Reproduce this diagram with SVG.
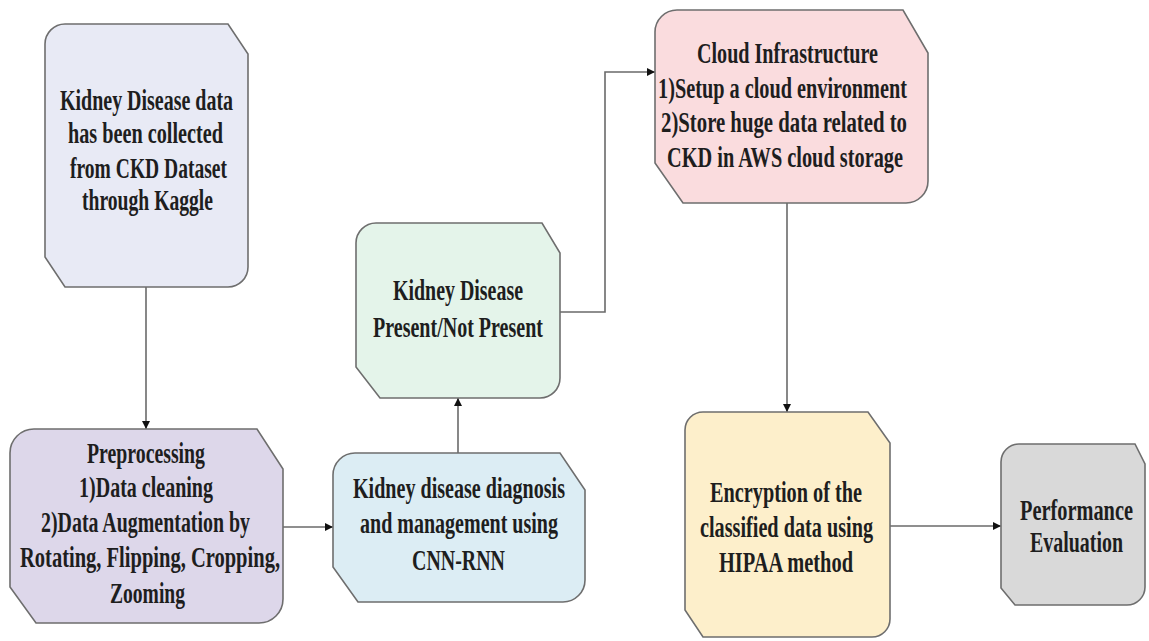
<svg xmlns="http://www.w3.org/2000/svg" width="1149" height="641" viewBox="0 0 1149 641">
<style>
.box{stroke:#6e6e6e;stroke-width:1.6}
.t{font-family:"Liberation Serif","Times New Roman",serif;font-weight:bold;font-size:29px;fill:#1e1e1e;text-anchor:middle}
.c{fill:none;stroke:#6a6a6a;stroke-width:1.6}
</style>
<defs>
<marker id="ah" viewBox="0 0 10 10" refX="10" refY="5" markerWidth="8" markerHeight="8" markerUnits="userSpaceOnUse" orient="auto">
<path d="M0,0 L10,5 L0,10 Z" fill="#111"/>
</marker>
</defs>
<rect width="1149" height="641" fill="#ffffff"/>
<g id="connectors">
<path class="c" d="M146,287 V429" marker-end="url(#ah)"/>
<path class="c" d="M283,527 H333" marker-end="url(#ah)"/>
<path class="c" d="M458,453 V398" marker-end="url(#ah)"/>
<path class="c" d="M560,312 H605 V72 H655" marker-end="url(#ah)"/>
<path class="c" d="M787,203 V412" marker-end="url(#ah)"/>
<path class="c" d="M890,526 H1001" marker-end="url(#ah)"/>
</g>
<g id="node-data">
<path class="box" fill="#E8EAF5" d="M65,24 H228 L248,54 V267 A20,20 0 0 1 228,287 H65 L45,257 V44 A20,20 0 0 1 65,24 Z"/>
<text class="t" transform="translate(146.5,110) scale(0.75,1)" x="0" y="0" textLength="230.7" lengthAdjust="spacingAndGlyphs">Kidney Disease data</text>
<text class="t" transform="translate(145.5,143) scale(0.75,1)" x="0" y="0" textLength="206.7" lengthAdjust="spacingAndGlyphs">has been collected</text>
<text class="t" transform="translate(148.5,178) scale(0.75,1)" x="0" y="0" textLength="209.3" lengthAdjust="spacingAndGlyphs">from CKD Dataset</text>
<text class="t" transform="translate(147.5,210) scale(0.75,1)" x="0" y="0" textLength="174.7" lengthAdjust="spacingAndGlyphs">through Kaggle</text>
</g>
<g id="node-preprocessing">
<path class="box" fill="#DDD7EA" d="M34,429 H257 L283,469 V599 A24,24 0 0 1 259,623 H36 L10,587 V453 A24,24 0 0 1 34,429 Z"/>
<text class="t" transform="translate(146,463) scale(0.75,1)" x="0" y="0" textLength="157.3" lengthAdjust="spacingAndGlyphs">Preprocessing</text>
<text class="t" transform="translate(146,497) scale(0.75,1)" x="0" y="0" textLength="178.7" lengthAdjust="spacingAndGlyphs">1)Data cleaning</text>
<text class="t" transform="translate(145.5,532) scale(0.75,1)" x="0" y="0" textLength="278.7" lengthAdjust="spacingAndGlyphs">2)Data Augmentation by</text>
<text class="t" transform="translate(150,567) scale(0.75,1)" x="0" y="0" textLength="346.7" lengthAdjust="spacingAndGlyphs">Rotating, Flipping, Cropping,</text>
<text class="t" transform="translate(147.5,603) scale(0.75,1)" x="0" y="0" textLength="100" lengthAdjust="spacingAndGlyphs">Zooming</text>
</g>
<g id="node-cnnrnn">
<path class="box" fill="#DCEDF4" d="M355,453 H560 L585,490 V580 A22,22 0 0 1 563,602 H358 L333,567 V475 A22,22 0 0 1 355,453 Z"/>
<text class="t" transform="translate(459,498) scale(0.75,1)" x="0" y="0" textLength="282.7" lengthAdjust="spacingAndGlyphs">Kidney disease diagnosis</text>
<text class="t" transform="translate(459,533) scale(0.75,1)" x="0" y="0" textLength="264" lengthAdjust="spacingAndGlyphs">and management using</text>
<text class="t" transform="translate(458.5,570) scale(0.75,1)" x="0" y="0" textLength="124" lengthAdjust="spacingAndGlyphs">CNN-RNN</text>
</g>
<g id="node-present">
<path class="box" fill="#E4F4EA" d="M376,223 H542 L560,253 V378 A20,20 0 0 1 540,398 H380 L356,367 V243 A20,20 0 0 1 376,223 Z"/>
<text class="t" transform="translate(458,300) scale(0.75,1)" x="0" y="0" textLength="173.3" lengthAdjust="spacingAndGlyphs">Kidney Disease</text>
<text class="t" transform="translate(458,337) scale(0.75,1)" x="0" y="0" textLength="226.7" lengthAdjust="spacingAndGlyphs">Present/Not Present</text>
</g>
<g id="node-cloud">
<path class="box" fill="#FADCDE" d="M677,10 H903 L928,53 V181 A22,22 0 0 1 906,203 H683 L655,163 V32 A22,22 0 0 1 677,10 Z"/>
<text class="t" transform="translate(787.5,63) scale(0.75,1)" x="0" y="0" textLength="241.3" lengthAdjust="spacingAndGlyphs">Cloud Infrastructure</text>
<text class="t" transform="translate(782.5,98) scale(0.75,1)" x="0" y="0" textLength="332" lengthAdjust="spacingAndGlyphs">1)Setup a cloud environment</text>
<text class="t" transform="translate(784,132) scale(0.75,1)" x="0" y="0" textLength="328" lengthAdjust="spacingAndGlyphs">2)Store huge data related to</text>
<text class="t" transform="translate(785,167) scale(0.75,1)" x="0" y="0" textLength="314.7" lengthAdjust="spacingAndGlyphs">CKD in AWS cloud storage</text>
</g>
<g id="node-encryption">
<path class="box" fill="#FDEFCB" d="M703,412 H868 L890,443 V619 A18,18 0 0 1 872,637 H703 L685,610 V430 A18,18 0 0 1 703,412 Z"/>
<text class="t" transform="translate(786,502) scale(0.75,1)" x="0" y="0" textLength="202.7" lengthAdjust="spacingAndGlyphs">Encryption of the</text>
<text class="t" transform="translate(786.5,537) scale(0.75,1)" x="0" y="0" textLength="230.7" lengthAdjust="spacingAndGlyphs">classified data using</text>
<text class="t" transform="translate(786,572) scale(0.75,1)" x="0" y="0" textLength="178.7" lengthAdjust="spacingAndGlyphs">HIPAA method</text>
</g>
<g id="node-performance">
<path class="box" fill="#D9D9D9" d="M1019,444 H1135 L1145,464 V587 A18,18 0 0 1 1127,605 H1015 L1001,588 V462 A18,18 0 0 1 1019,444 Z"/>
<text class="t" transform="translate(1076.5,520) scale(0.75,1)" x="0" y="0" textLength="150.7" lengthAdjust="spacingAndGlyphs">Performance</text>
<text class="t" transform="translate(1076.5,552) scale(0.75,1)" x="0" y="0" textLength="124" lengthAdjust="spacingAndGlyphs">Evaluation</text>
</g>
</svg>
